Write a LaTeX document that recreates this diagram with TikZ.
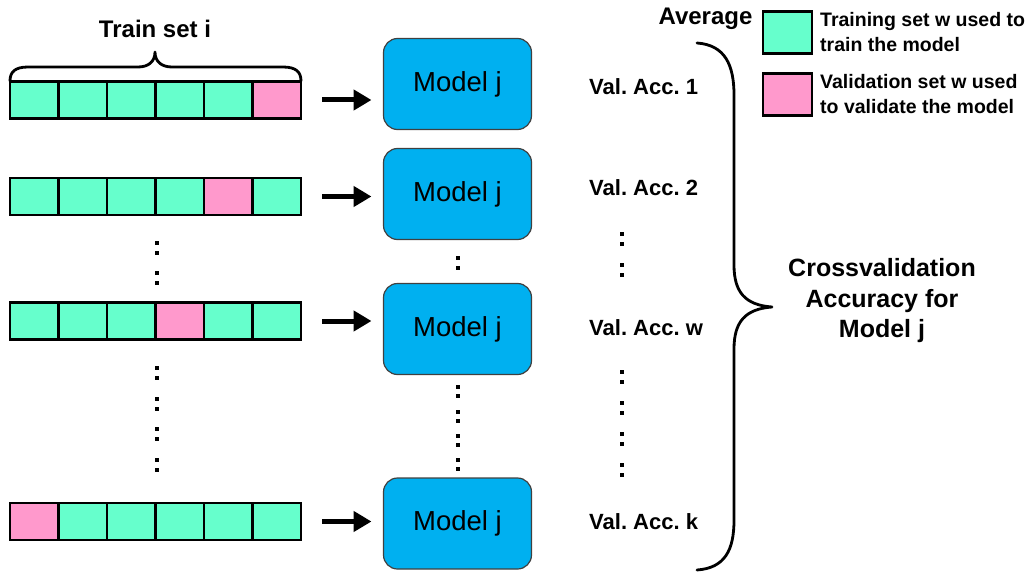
\documentclass[tikz,border=0pt]{standalone}
\usepackage{fontspec}
\setmainfont{Liberation Sans}
\usetikzlibrary{arrows.meta}
\definecolor{trainc}{RGB}{102,255,204}
\definecolor{valc}{RGB}{255,153,204}
\definecolor{modelc}{RGB}{0,176,240}
\frenchspacing
\begin{document}
\begin{tikzpicture}[x=1pt, y=-1pt,
  cell/.style={draw=black, line width=2.4pt, minimum width=48.5pt, minimum height=37pt,
    inner sep=0pt, outer sep=0pt, fill=trainc},
  valcell/.style={cell, fill=valc},
  model/.style={draw=black!75, line width=1.2pt, rounded corners=14pt, fill=modelc,
    minimum width=148pt, minimum height=91pt, inner sep=0pt, outer sep=0pt,
    font=\fontsize{27.5}{30}\selectfont},
  acc/.style={anchor=west, inner sep=0pt, font=\bfseries\fontsize{22}{26}\selectfont},
  feed/.style={line width=5pt, -{Triangle[length=18pt,width=20pt]},
    shorten <=21pt, shorten >=12pt},
  legendbox/.style={draw=black, line width=2.2pt, minimum width=49pt, minimum height=42pt,
    inner sep=0pt},
  legendtext/.style={anchor=west, align=left, inner sep=0pt,
    font=\bfseries\fontsize{19.5}{25}\selectfont},
  curly/.style={draw=black, line width=2.8pt, line cap=round, line join=round},
]
\useasboundingbox (0,0) rectangle (1032,572);

% the four folds: six cells each, one of them held out for validation
\foreach \row/\y/\v in {1/100/6, 2/196.5/5, 3/321/4, 4/521.5/1} {
  \foreach \k in {1,...,6} {
    \ifnum\k=\v
      \node[valcell] (r\row-\k) at ({34.25+48.5*(\k-1)}, \y) {};
    \else
      \node[cell] (r\row-\k) at ({34.25+48.5*(\k-1)}, \y) {};
    \fi
  }
}

% models
\node[model] (m1) at (457.5, 84)    {Model j};
\node[model] (m2) at (457.5, 194)   {Model j};
\node[model] (m3) at (457.5, 329)   {Model j};
\node[model] (m4) at (457.5, 523.5) {Model j};

% fold -> model
\draw[feed] (r1-6.east) -- (r1-6.east -| m1.west);
\draw[feed] (r2-6.east) -- (r2-6.east -| m2.west);
\draw[feed] (r3-6.east) -- (r3-6.east -| m3.west);
\draw[feed] (r4-6.east) -- (r4-6.east -| m4.west);

% validation accuracies
\node[acc] (a1) at (589, 86.5) {Val. Acc. 1};
\node[acc] (a2) at (589, 188)  {Val. Acc. 2};
\node[acc] (aw) at (589, 327.5) {Val. Acc. w};
\node[acc] (ak) at (589, 522)  {Val. Acc. k};

% elision dots
\foreach \x/\ys in {157/{243,253,273,283,368,378,399,409,429,439,460,470},
                    458/{258,268,387,396,412,421,436,445,460,469},
                    622/{234,244,265,275,372,382,403,413,434,444,465,475}} {
  \foreach \yy in \ys {
    \fill (\x-1.7, \yy-1.7) rectangle ++(3.4, 3.4);
  }
}

% brace over the first fold
\draw[curly] (10,81) .. controls (10,72) and (15,67) .. (28,67) -- (138,67)
  .. controls (148,67) and (155,62) .. (155,52)
  .. controls (155,62) and (162,67) .. (172,67) -- (283,67)
  .. controls (296,67) and (301,72) .. (301,81);
\node[font=\bfseries\fontsize{24}{28}\selectfont] (train) at (155, 29) {Train set i};

% brace collecting the accuracies
\draw[curly] (697,43) .. controls (725,45) and (734,65) .. (734,95) -- (734,265)
  .. controls (734,292) and (745,305) .. (772,307)
  .. controls (745,309) and (734,322) .. (734,349) -- (734,520)
  .. controls (734,550) and (725,568) .. (697,570);
\node[font=\bfseries\fontsize{24}{28}\selectfont] (avg) at (705.5, 19) {Average};
\node[align=center, font=\bfseries\fontsize{25}{30.5}\selectfont] (cv) at (882, 301)
  {Crossvalidation\\Accuracy for\\Model j};

% legend
\node[legendbox, fill=trainc] (lg1) at (787.5, 32.5) {};
\node[legendbox, fill=valc]   (lg2) at (787.5, 94.5) {};
\node[legendtext] (lt1) at (820, 32.5) {Training set w used to\\train the model};
\node[legendtext] (lt2) at (820, 94.5) {Validation set w used\\to validate the model};
\end{tikzpicture}
\end{document}
